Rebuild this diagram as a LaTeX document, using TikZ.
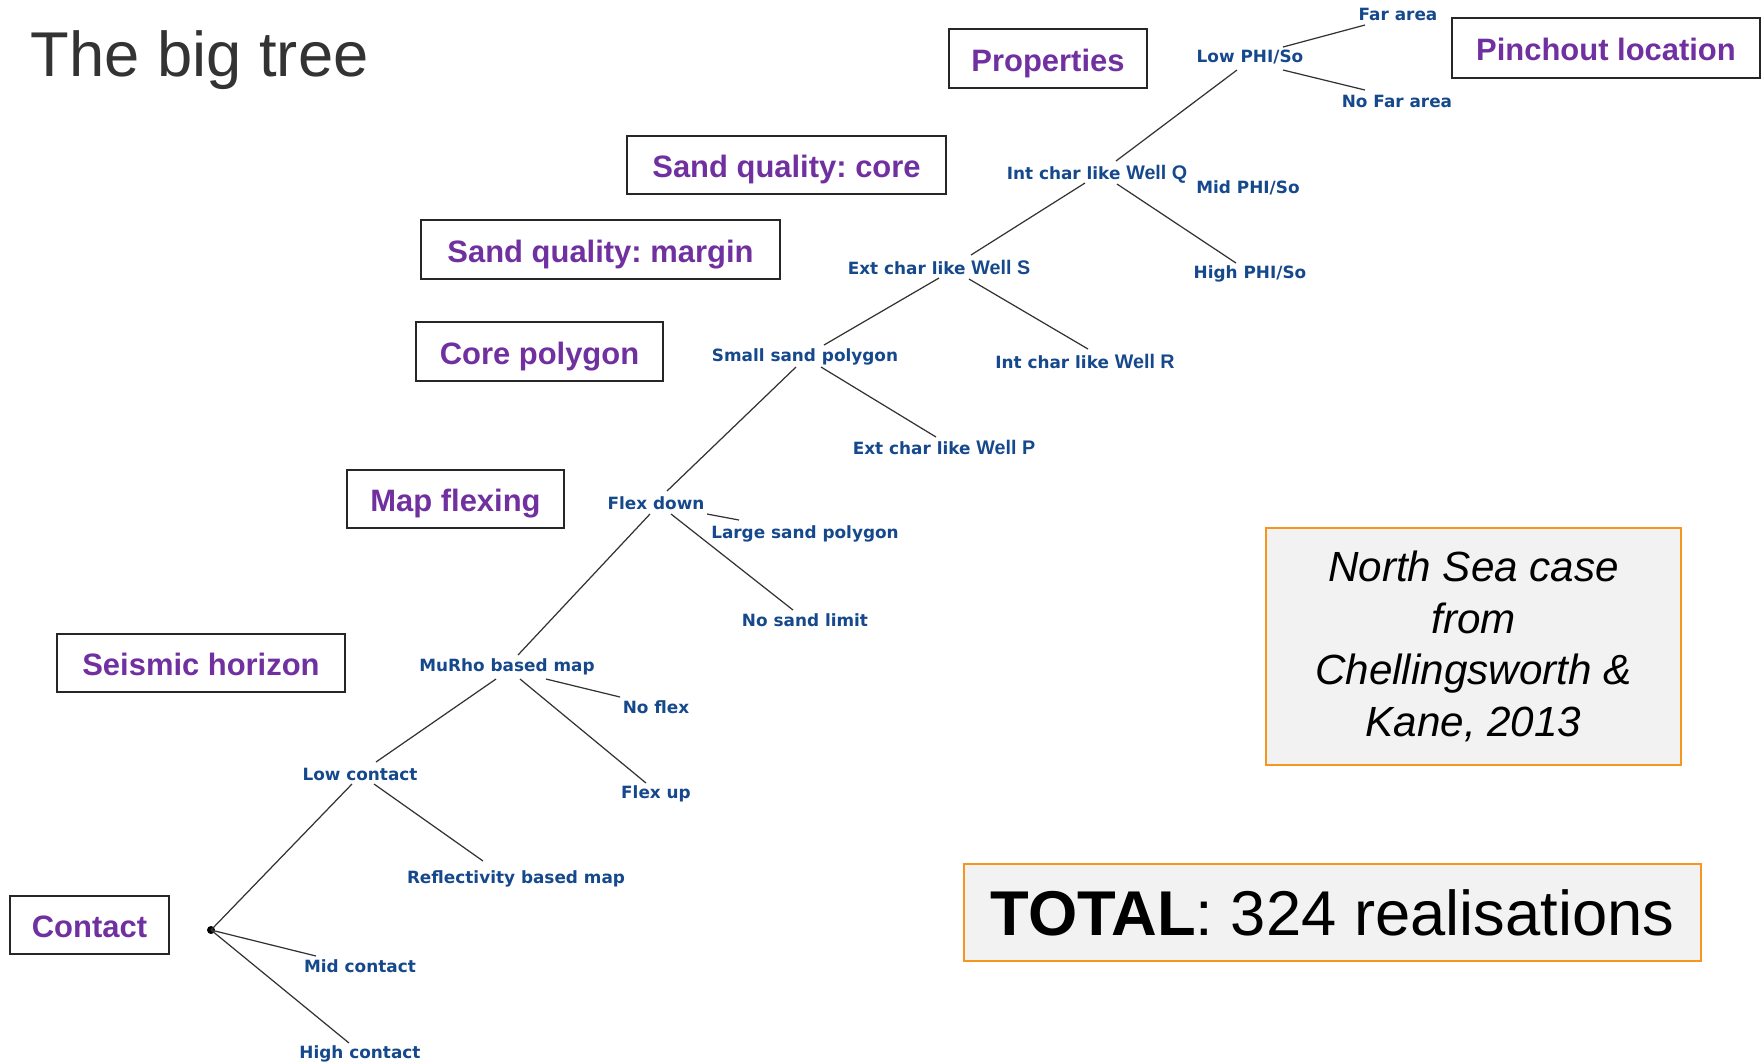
\documentclass[tikz,border=0pt]{standalone}
\usepackage{fontspec}
\setmainfont{Liberation Sans}
\newfontfamily\treefont{DejaVu Sans}
\newfontfamily\wellfont{Liberation Sans}
\definecolor{purp}{RGB}{112,48,160}
\definecolor{navy}{RGB}{22,72,140}
\definecolor{boxgray}{RGB}{242,242,242}
\definecolor{amber}{RGB}{247,150,30}
\definecolor{titlegray}{RGB}{51,51,51}
\newcommand{\wl}[1]{{\wellfont\fontsize{5.6}{6}\selectfont\bfseries #1}}
\frenchspacing
\begin{document}
\begin{tikzpicture}[x=0.01cm,y=-0.01cm,
  lvl/.style={draw=black!85, line width=0.5pt, text=purp, font=\fontsize{8.8}{10}\selectfont\bfseries, inner sep=0pt, text height=0.72em, text depth=0pt, anchor=center},
  leaf/.style={text=navy, font=\treefont\fontsize{4.8}{5.6}\selectfont\bfseries, inner sep=0pt, anchor=center},
  branch/.style={draw=black!80, line width=0.35pt},
  infobox/.style={draw=amber, fill=boxgray, line width=0.6pt, inner sep=0pt, align=center}
]
\useasboundingbox (0,0) rectangle (1762,1062);

% title
\node[anchor=base west, inner sep=0pt, text=titlegray, font=\fontsize{18}{20}\selectfont] (title) at (30,76) {The big tree};

% level boxes
\node[lvl, minimum width=1.98cm, minimum height=0.59cm] (props) at (1048,58.5) {Properties};
\node[lvl, minimum width=3.08cm, minimum height=0.60cm] (pinch) at (1606,48) {Pinchout location};
\node[lvl, minimum width=3.19cm, minimum height=0.58cm] (sqcore) at (786.5,165) {Sand quality: core};
\node[lvl, minimum width=3.59cm, minimum height=0.59cm] (sqmargin) at (600.5,249.5) {Sand quality: margin};
\node[lvl, minimum width=2.47cm, minimum height=0.59cm] (corepoly) at (539.5,351.5) {Core polygon};
\node[lvl, minimum width=2.17cm, minimum height=0.58cm] (mapflex) at (455.5,499) {Map flexing};
\node[lvl, minimum width=2.88cm, minimum height=0.58cm] (seis) at (201,663) {Seismic horizon};
\node[lvl, minimum width=1.59cm, minimum height=0.58cm] (contact) at (89.5,925) {Contact};

% tree labels
\node[leaf] (farea) at (1398,14) {Far area};
\node[leaf] (lowphi) at (1250,57) {Low PHI/So};
\node[leaf] (nofar) at (1397,101) {No Far area};
\node[leaf] (intq) at (1097,174) {Int char like \wl{Well Q}};
\node[leaf] (midphi) at (1248,188) {Mid PHI/So};
\node[leaf] (highphi) at (1250,274) {High PHI/So};
\node[leaf] (exts) at (939,267) {Ext char like \wl{Well S}};
\node[leaf] (intr) at (1085,361) {Int char like \wl{Well R}};
\node[leaf] (small) at (805,357) {Small sand polygon};
\node[leaf] (extp) at (944,447) {Ext char like \wl{Well P}};
\node[leaf] (flexdown) at (656,503) {Flex down};
\node[leaf] (large) at (805,534) {Large sand polygon};
\node[leaf] (nosand) at (805,620) {No sand limit};
\node[leaf] (murho) at (507,667) {MuRho based map};
\node[leaf] (noflex) at (656,707) {No flex};
\node[leaf] (lowc) at (360,774) {Low contact};
\node[leaf] (flexup) at (656,794) {Flex up};
\node[leaf] (refl) at (516,879) {Reflectivity based map};
\node[leaf] (midc) at (360,966) {Mid contact};
\node[leaf] (highc) at (360,1054) {High contact};
\node[circle, fill=black, inner sep=0pt, minimum size=0.08cm] (root) at (211,930) {};

% branches
\draw[branch] ([shift={(33,-10)}]lowphi.center) -- ([shift={(-33,11)}]farea.center);
\draw[branch] ([shift={(33,13)}]lowphi.center) -- ([shift={(-32,-11)}]nofar.center);
\draw[branch] ([shift={(19,-13)}]intq.center) -- ([shift={(-13,13)}]lowphi.center);
\draw[branch] ([shift={(20,10)}]intq.center) -- ([shift={(-14,-11)}]highphi.center);
\draw[branch] ([shift={(32,-12)}]exts.center) -- ([shift={(-12,9)}]intq.center);
\draw[branch] ([shift={(30,12)}]exts.center) -- ([shift={(3,-12)}]intr.center);
\draw[branch] ([shift={(19,-12)}]small.center) -- ([shift={(0,11)}]exts.center);
\draw[branch] ([shift={(16,10)}]small.center) -- ([shift={(-8,-10)}]extp.center);
\draw[branch] ([shift={(11,-12)}]flexdown.center) -- ([shift={(-9,10)}]small.center);
\draw[branch] ([shift={(51,11)}]flexdown.center) -- ([shift={(-66,-14)}]large.center);
\draw[branch] ([shift={(15,11)}]flexdown.center) -- ([shift={(-12,-10)}]nosand.center);
\draw[branch] ([shift={(11,-12)}]murho.center) -- ([shift={(-6,11)}]flexdown.center);
\draw[branch] ([shift={(39,12)}]murho.center) -- ([shift={(-36,-10)}]noflex.center);
\draw[branch] ([shift={(13,12)}]murho.center) -- ([shift={(-10,-11)}]flexup.center);
\draw[branch] ([shift={(16,-12)}]lowc.center) -- ([shift={(-11,12)}]murho.center);
\draw[branch] ([shift={(14,10)}]lowc.center) -- ([shift={(-33,-18)}]refl.center);
\draw[branch] (root.center) -- ([shift={(-8,10)}]lowc.center);
\draw[branch] (root.center) -- ([shift={(-44,-10)}]midc.center);
\draw[branch] (root.center) -- ([shift={(-11,-11)}]highc.center);

% info boxes
\node[infobox, minimum width=4.15cm, minimum height=2.37cm, font=\fontsize{12}{14.7}\selectfont\itshape] (note) at (1473.5,646.5) {North Sea case\\from\\Chellingsworth \&\\Kane, 2013};
\node[infobox, minimum width=7.37cm, minimum height=0.97cm, font=\fontsize{18}{20}\selectfont] (total) at (1332.5,912.5) {\textbf{TOTAL}: 324 realisations};
\end{tikzpicture}
\end{document}
